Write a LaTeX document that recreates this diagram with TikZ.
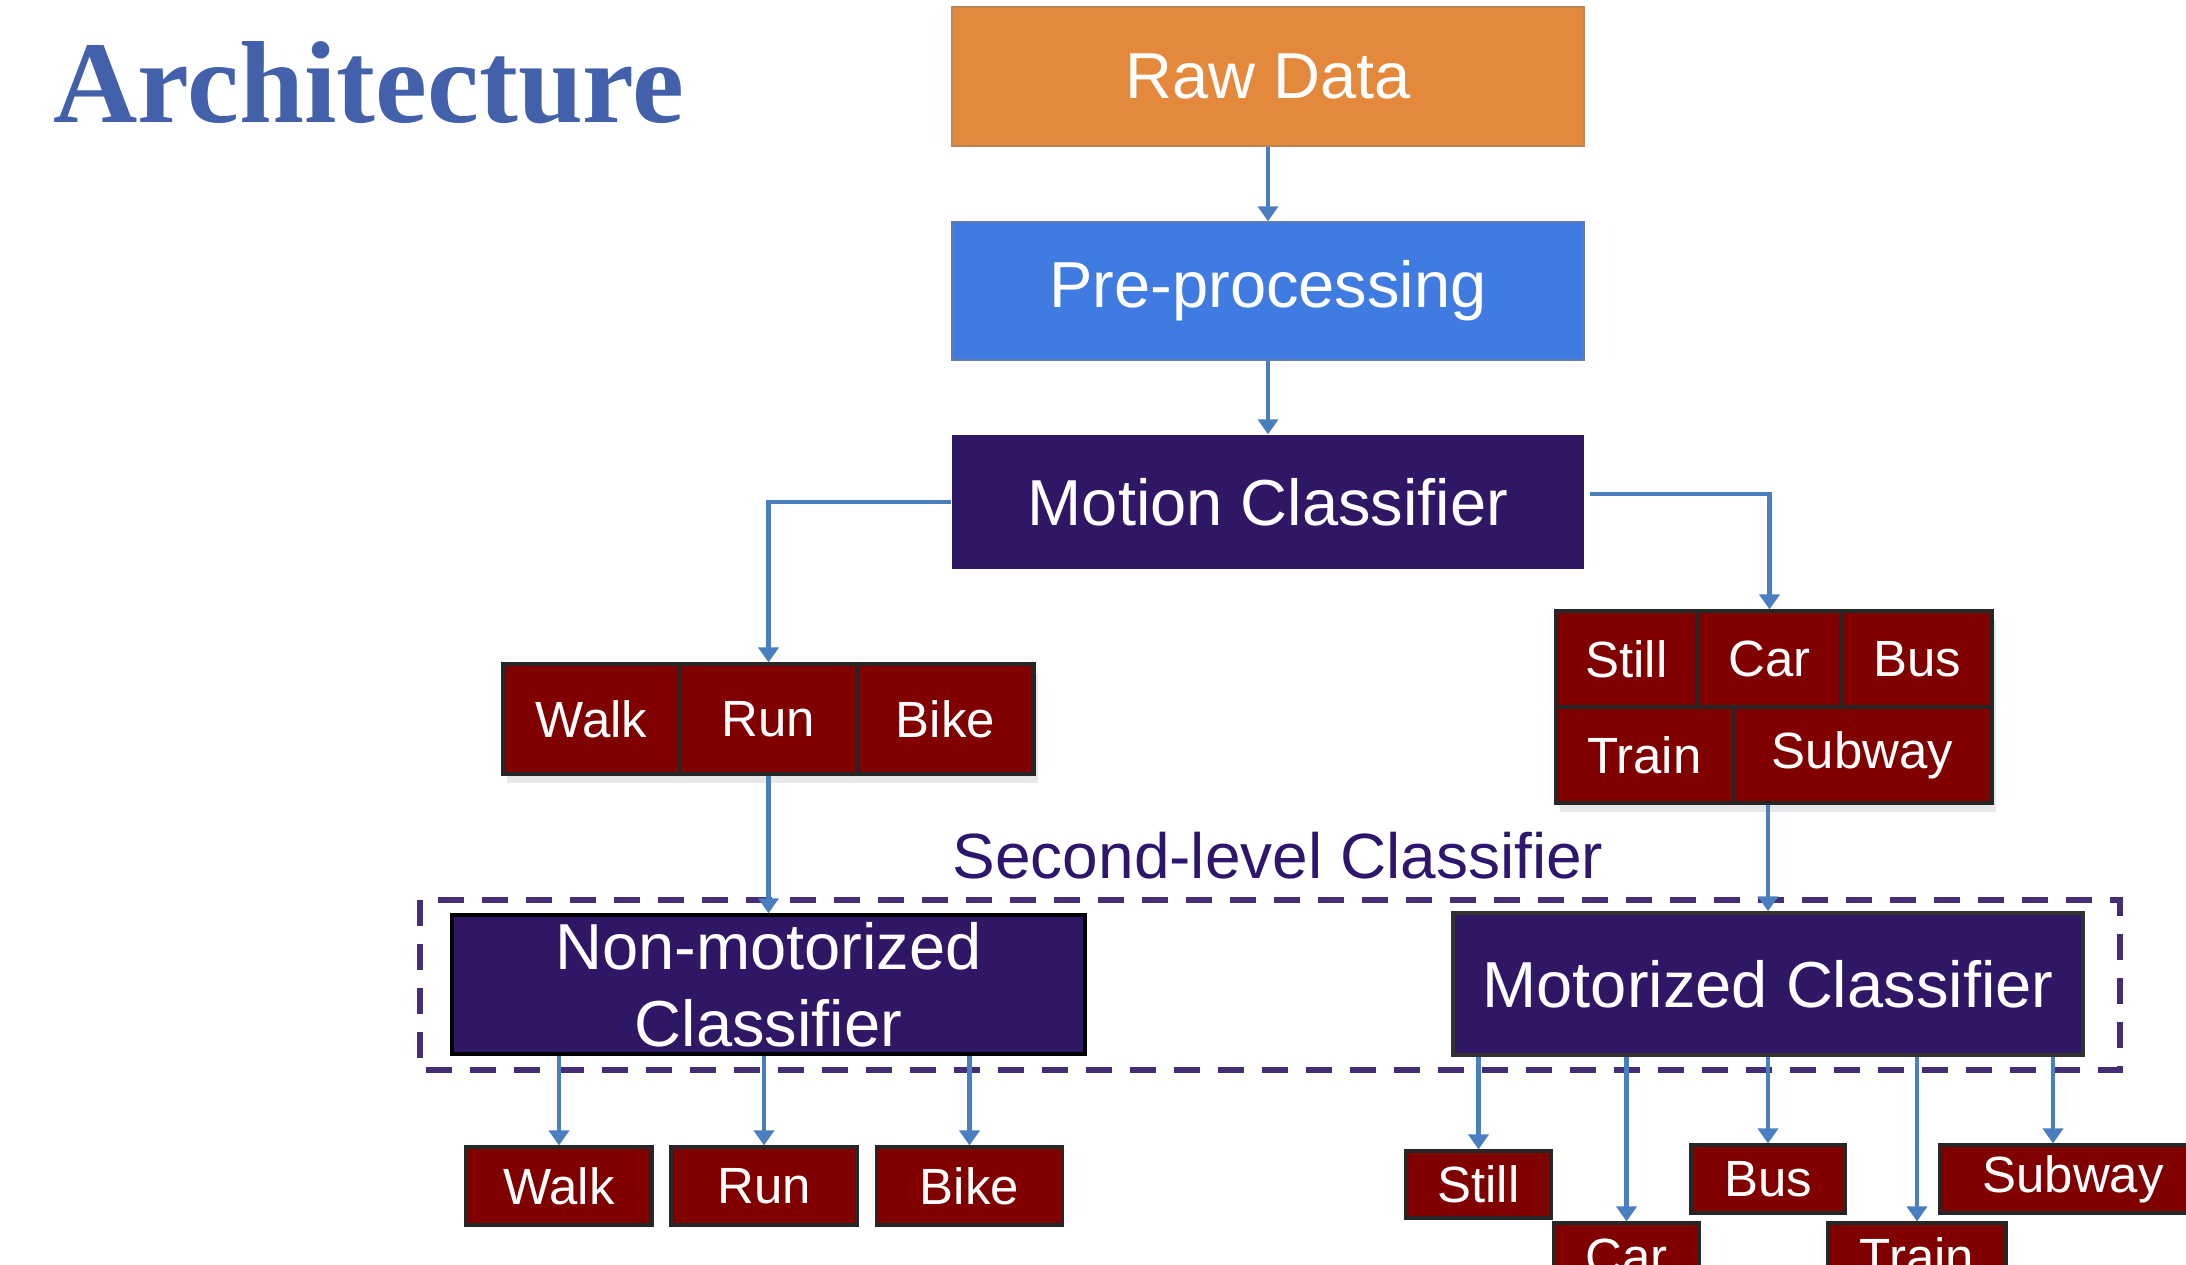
\documentclass[tikz,border=0pt]{standalone}
\usepackage{fontspec}
\setmainfont{Liberation Serif}
\setsansfont{Liberation Sans}
\usetikzlibrary{arrows.meta,shadows}

\definecolor{rawc}{HTML}{E4883C}
\definecolor{prec}{HTML}{3F7BE0}
\definecolor{clsc}{HTML}{301766}
\definecolor{modec}{HTML}{800000}
\definecolor{linkc}{HTML}{4A7FBF}
\definecolor{titlec}{HTML}{4360AB}

\begin{document}
\begin{tikzpicture}[x=1cm,y=1cm,
  stage/.style={rectangle,inner sep=0pt,minimum width=6.32cm,text=white,font=\sffamily\fontsize{18.5}{22}\selectfont},
  mode/.style={rectangle,draw=black!85,line width=0.9pt,fill=modec,inner sep=0pt,text=white,font=\sffamily\fontsize{14.5}{17}\selectfont},
  lifted/.style={drop shadow={opacity=0.18,shadow xshift=0.4mm,shadow yshift=-0.9mm}},
  link/.style={draw=linkc,line width=1.2pt,-{Triangle[length=1.5mm,width=2mm]}}]
  \useasboundingbox (0,0) rectangle (21.86,-12.65);
  \clip (0,0) rectangle (21.86,-12.65);

  \node[anchor=base west,inner sep=0pt,text=titlec,font=\rmfamily\bfseries\fontsize{33.2}{40}\selectfont] (title) at (0.53,-1.23) {Architecture};

  \node[stage,fill=rawc,draw=rawc!60!gray,minimum height=1.39cm] (raw) at (12.68,-0.765) {Raw Data};
  \node[stage,fill=prec,draw=prec!50!gray,minimum height=1.38cm] (pre) at (12.68,-2.91) {Pre-processing};
  \node[stage,fill=clsc,minimum height=1.34cm] (motion) at (12.68,-5.02) {Motion Classifier};

  \node[mode,lifted,minimum width=1.77cm,minimum height=1.10cm] (walk) at (5.915,-7.19) {Walk};
  \node[mode,lifted,minimum width=1.77cm,minimum height=1.10cm] (run) at (7.685,-7.19) {Run};
  \node[mode,lifted,minimum width=1.77cm,minimum height=1.10cm] (bike) at (9.455,-7.19) {Bike};

  \node[mode,lifted,minimum width=1.41cm,minimum height=0.96cm] (still) at (16.265,-6.59) {Still};
  \node[mode,lifted,minimum width=1.45cm,minimum height=0.96cm] (car) at (17.695,-6.59) {Car};
  \node[mode,lifted,minimum width=1.50cm,minimum height=0.96cm] (bus) at (19.17,-6.59) {Bus};
  \node[mode,lifted,minimum width=1.77cm,minimum height=0.96cm] (train) at (16.445,-7.55) {Train};
  \node[mode,lifted,minimum width=2.59cm,minimum height=0.96cm] (subway) at (18.625,-7.55) {Subway};

  \node[text=clsc!95!blue,font=\sffamily\fontsize{18.2}{20}\selectfont] (second) at (12.78,-8.56) {Second-level Classifier};
  \draw[clsc!90,line width=1.7pt,dash pattern=on 2.6mm off 1.8mm] (4.20,-9.00) rectangle (21.20,-10.70);

  \node[stage,fill=clsc,draw=black,line width=1pt,minimum width=6.33cm,minimum height=1.39cm,align=center] (nonmot) at (7.685,-9.845) {Non-motorized\\Classifier};
  \node[stage,fill=clsc,draw=black!80,line width=1pt,minimum width=6.30cm,minimum height=1.42cm] (mot) at (17.68,-9.84) {Motorized Classifier};

  \node[mode,minimum width=1.86cm,minimum height=0.78cm] (walk2) at (5.59,-11.86) {Walk};
  \node[mode,minimum width=1.86cm,minimum height=0.78cm] (run2) at (7.64,-11.86) {Run};
  \node[mode,minimum width=1.86cm,minimum height=0.78cm] (bike2) at (9.695,-11.86) {Bike};

  \node[mode,minimum width=1.45cm,minimum height=0.67cm] (still2) at (14.785,-11.845) {Still};
  \node[mode,minimum width=1.45cm,minimum height=0.67cm] (car2) at (16.265,-12.565) {Car};
  \node[mode,minimum width=1.54cm,minimum height=0.68cm] (bus2) at (17.68,-11.79) {Bus};
  \node[mode,minimum width=1.78cm,minimum height=0.67cm] (train2) at (19.17,-12.565) {Train};
  \node[mode,minimum width=2.66cm,minimum height=0.68cm] (sub2) at (20.73,-11.79) {Subway};
  \coordinate (subin) at ([xshift=-2mm]sub2.north);

  \draw[link] (raw) -- (pre);
  \draw[link] (pre) -- (motion);
  \draw[link] (motion.west) -| (run.north);
  \draw[link] ([xshift=0.5mm,yshift=0.8mm]motion.east) -| (car.north);
  \draw[link] (run.south) -- (nonmot.north);
  \draw[link] (subway.south -| mot.north) -- (mot.north);
  \foreach \leaf in {walk2,run2,bike2}
    \draw[link] (nonmot.south -| \leaf.north) -- (\leaf.north);
  \foreach \leaf in {still2,car2,bus2,train2}
    \draw[link] (mot.south -| \leaf.north) -- (\leaf.north);
  \draw[link] (mot.south -| subin) -- (subin);
\end{tikzpicture}
\end{document}
